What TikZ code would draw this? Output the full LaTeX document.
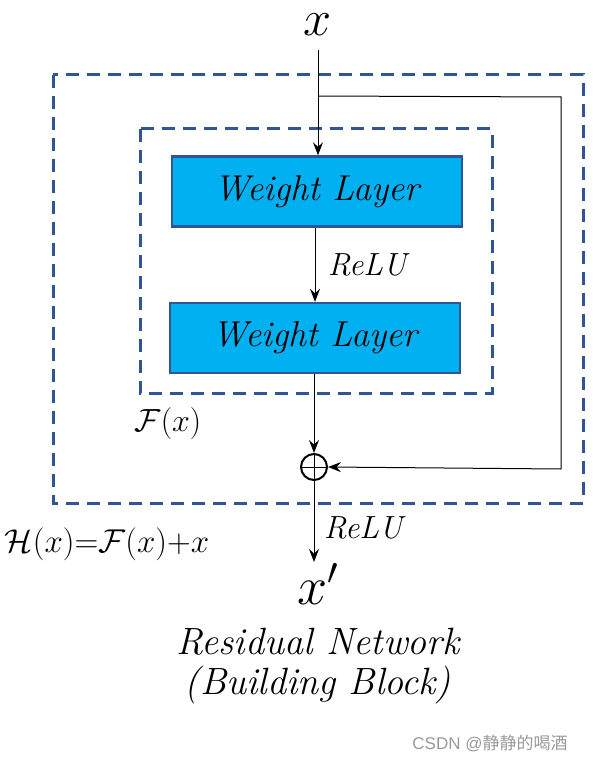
\RequirePackage{fix-cm}
\documentclass[tikz,border=0pt]{standalone}
\usepackage{fontspec}
\newfontfamily\cjk{Noto Sans CJK SC}
\newfontfamily\wm{Liberation Sans}
\usetikzlibrary{arrows.meta}
\definecolor{dashblue}{HTML}{2F5597}
\definecolor{boxfill}{HTML}{00B0F0}
\tikzset{
  dashbox/.style={draw=dashblue, line width=3pt, dash pattern=on 13pt off 8pt},
  layerbox/.style={draw=dashblue, fill=boxfill, line width=2.4pt, minimum width=290pt, minimum height=70pt, inner sep=0pt},
  conn/.style={line width=1pt, -{Stealth[length=13pt, width=10pt, inset=4.5pt]}},
  wire/.style={line width=1pt},
  lbl/.style={inner sep=0pt, font=\itshape\fontsize{32}{36}\selectfont},
  wlbl/.style={inner sep=0pt, font=\itshape\fontsize{36}{40}\selectfont},
  addnode/.style={circle, draw, line width=2pt, minimum size=26pt, inner sep=0pt,
    path picture={\draw[line width=0.8pt] (path picture bounding box.north) -- (path picture bounding box.south)
      (path picture bounding box.west) -- (path picture bounding box.east);}}
}
\begin{document}
\begin{tikzpicture}[x=1pt, y=-1pt]
\useasboundingbox (0,0) rectangle (592,762);
% dashed frames
\draw[dashbox] (53,75) rectangle (583,503);
\draw[dashbox] (140,129) rectangle (492,393);
% nodes
\node[inner sep=0pt, font=\fontsize{36}{40}\selectfont] (x) at (318,25) {\scalebox{1.4}{$x$}};
\coordinate (xin) at (318,50);
\node[layerbox, wlbl] (w1) at (317,191.5) {Weight Layer};
\node[layerbox, wlbl] (w2) at (315,338) {Weight Layer};
\node[addnode] (add) at (314,467) {};
\node[inner sep=0pt, font=\fontsize{54}{58}\selectfont] (xout) at (318,584) {$x'$};
\coordinate (split) at (318,96);
\coordinate (c1) at (561,97);
\coordinate (c2) at (561,469);
\coordinate (outend) at (314,562);
% connectors
\draw[conn] (xin) -- (w1.north -| xin);
\draw[wire] (split) -- (c1) -- (c2);
\draw[conn] (c2) -- (add.east);
\draw[conn] (w1.south -| 315,0) -- (w2.north -| 315,0);
\draw[conn] (w2.south -| add) -- (add.north);
\draw[conn] (add.south) -- (outend);
% labels
\node[lbl] (relu1) at (367,265) {ReLU};
\node[lbl] (relu2) at (363,528) {ReLU};
\node[inner sep=0pt, font=\fontsize{32}{36}\selectfont] (fx) at (168,423) {$\mathcal{F}(x)$};
\node[inner sep=0pt, font=\fontsize{33}{38}\selectfont] (hx) at (107,544) {$\mathcal{H}(x){=}\mathcal{F}(x){+}x$};
\node[inner sep=0pt, font=\itshape\fontsize{38}{42}\selectfont] (t1) at (318,642) {Residual Network};
\node[inner sep=0pt, font=\itshape\fontsize{38}{42}\selectfont] (t2) at (318,685) {(Building Block)};
\node[inner sep=0pt, text=black!40, font=\fontsize{17}{19}\selectfont] (wmk) at (490,743) {\wm CSDN @\cjk 静静的喝酒};
\end{tikzpicture}
\end{document}
